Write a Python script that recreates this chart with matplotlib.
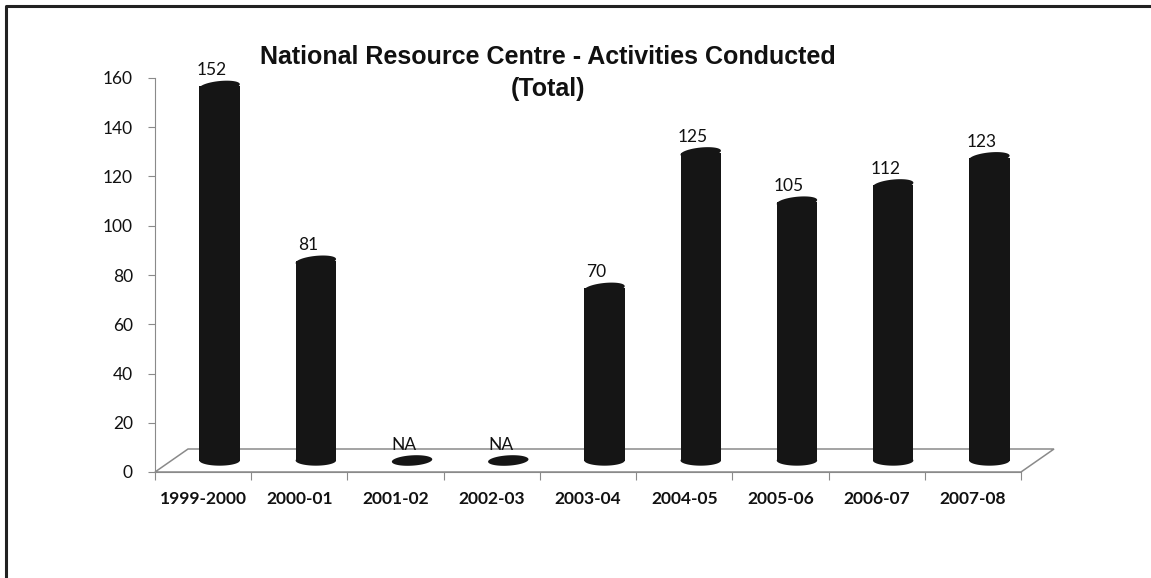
import numpy as np
import matplotlib.pyplot as plt
from matplotlib.patches import Polygon, Rectangle
from matplotlib.lines import Line2D

# Activities conducted per year (None = not available)
years = ['1999-2000', '2000-01', '2001-02', '2002-03', '2003-04',
         '2004-05', '2005-06', '2006-07', '2007-08']
activities = [152, 81, None, None, 70, 125, 105, 112, 123]

W, H = 1151, 578
fig = plt.figure(figsize=(W / 100, H / 100), dpi=100)
ax = fig.add_axes([155 / W, (H - 472) / H, 866 / W, 394 / H])
ax.set_xlim(0, len(years))
ax.set_ylim(0, 160)

# depth of the pseudo-3D floor, in data units
dx, dy = 0.343, 9.34
floor = Polygon([(0, 0), (len(years), 0), (len(years) + dx, dy), (dx, dy)],
                closed=True, facecolor='white', edgecolor='#8a8a8a', lw=1.1,
                clip_on=False, zorder=1)
ax.add_patch(floor)

bar_w = 0.42
ell_h = 2.1      # half height of the cylinder ends
tilt = 0.8       # slant of the top ellipse
base = dy / 2
bar_color = '#151515'
t = np.linspace(0, 2 * np.pi, 80)

for i, v in enumerate(activities):
    cx = i + 0.5 + dx / 2
    a = bar_w / 2
    if v is None:
        ex = cx + a * np.cos(t)
        ey = base + ell_h * np.sin(t) + tilt * 0.6 * np.cos(t)
        ax.add_patch(Polygon(np.column_stack([ex, ey]), closed=True,
                             facecolor=bar_color, edgecolor='none', zorder=3))
        label = 'NA'
        top = base
    else:
        top = base + v
        # body
        ax.add_patch(Rectangle((cx - a, base), bar_w, v, facecolor=bar_color,
                               edgecolor='none', zorder=3))
        # bottom ellipse
        ex = cx + a * np.cos(t)
        ey = base + ell_h * np.sin(t)
        ax.add_patch(Polygon(np.column_stack([ex, ey]), closed=True,
                             facecolor=bar_color, edgecolor='none', zorder=3))
        # top ellipse, slightly slanted
        ey = top + ell_h * np.sin(t) + tilt * np.cos(t)
        ax.add_patch(Polygon(np.column_stack([ex, ey]), closed=True,
                             facecolor=bar_color, edgecolor='none', zorder=3))
        label = str(v)
    ax.annotate(label, (i + 0.59, top + ell_h), xytext=(0, 2),
                textcoords='offset points', ha='center', va='bottom',
                fontsize=12.5, family='Lato', color='#111111', zorder=4)

# axes styling
for side in ['top', 'right']:
    ax.spines[side].set_visible(False)
ax.spines['left'].set_color('#8a8a8a')
ax.spines['bottom'].set_color('#8a8a8a')
ax.spines['bottom'].set_zorder(2)

ax.set_yticks(range(0, 161, 20))
ax.tick_params(axis='y', direction='out', length=5, color='#8a8a8a',
               pad=11, labelsize=12.5, labelcolor='#111111')
for lbl in ax.get_yticklabels():
    lbl.set_family('Lato')

ax.set_xticks(range(0, len(years) + 1))
ax.set_xticklabels([])
ax.set_xticks(np.arange(len(years)) + 0.5, minor=True)
ax.set_xticklabels(years, minor=True, fontsize=12.5, fontweight='bold',
                   family='Lato', color='#111111')
ax.tick_params(axis='x', which='major', direction='out', length=6,
               color='#8a8a8a')
ax.tick_params(axis='x', which='minor', length=0, pad=14)

fig.text(548 / W, 1 - 57 / H, 'National Resource Centre - Activities Conducted',
         ha='center', va='center', fontsize=18, fontweight='bold',
         family='Liberation Sans', color='#111111')
fig.text(548 / W, 1 - 89 / H, '(Total)', ha='center', va='center',
         fontsize=18, fontweight='bold', family='Liberation Sans',
         color='#111111')

# frame at the top and left edge
fig.add_artist(Line2D([5.5 / W, 5.5 / W, 1.0], [0.0, 1 - 5.5 / H, 1 - 5.5 / H],
                      transform=fig.transFigure, color='#222222', lw=2.2))

fig.savefig('out.png', dpi=100)
